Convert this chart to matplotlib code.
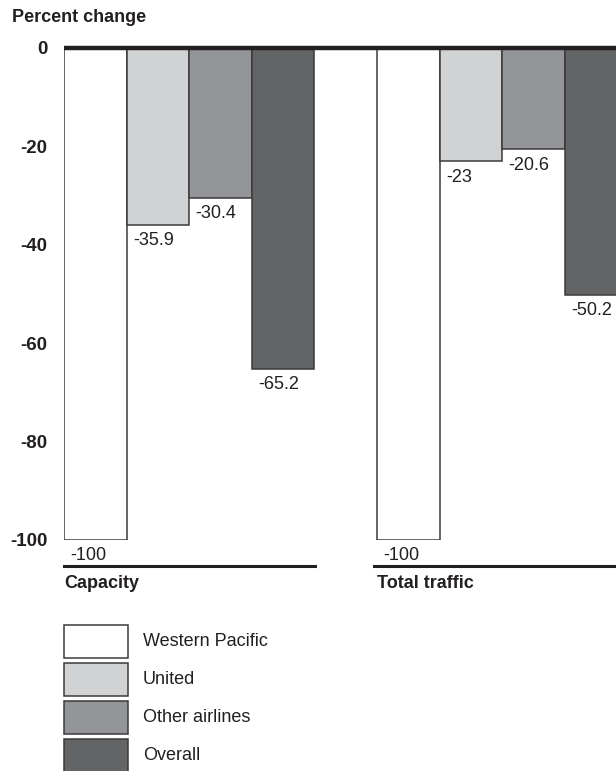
import matplotlib
matplotlib.use("Agg")
import matplotlib.pyplot as plt
from matplotlib.patches import Rectangle
from matplotlib.lines import Line2D

plt.rcParams['font.family'] = ['Liberation Sans', 'DejaVu Sans']

# ---- data ----
groups = ["Capacity", "Total traffic"]
series = ["Western Pacific", "United", "Other airlines", "Overall"]
capacity = [-100, -35.9, -30.4, -65.2]
total_traffic = [-100, -23, -20.6, -50.2]
yticks = [0, -20, -40, -60, -80, -100]
colors = ["#ffffff", "#d1d2d4", "#939598", "#636466"]
edge = "#3a3a3a"
dark = "#231f20"

W, H = 616, 771
fig = plt.figure(figsize=(W / 100, H / 100), dpi=100)

def fx(px):
    return px / W

def fy(py):
    return 1 - py / H

# axes: x from 64 px to 616 px, y 0 at 48 px, -100 at 540 px
bar_px = 62.6
ax_left, ax_right = 64, 616
ax_top, ax_bottom = 48, 540
ax = fig.add_axes([fx(ax_left), fy(ax_bottom), fx(ax_right - ax_left), (ax_bottom - ax_top) / H])
ax.set_xlim(0, (ax_right - ax_left) / bar_px)
ax.set_ylim(-100, 0)
for s in ax.spines.values():
    s.set_visible(False)
ax.set_xticks([])
ax.set_yticks(yticks)
ax.set_yticklabels([str(v) for v in yticks], fontsize=13.5, fontweight='bold', color=dark)
ax.tick_params(axis='y', length=0, pad=12)
ax.patch.set_visible(False)

data = [capacity, total_traffic]
for gi, vals in enumerate(data):
    start = gi * (len(series) + 1)
    for si, v in enumerate(vals):
        left = start + si
        ax.bar(left, v, width=1.0, align='edge', color=colors[si], edgecolor=edge,
               linewidth=1.1, zorder=2, clip_on=True)
        label = f"{v:g}"
        ax.annotate(label, xy=(left, v), xytext=(4.5, -11.5), textcoords='offset points',
                    ha='left', va='center', fontsize=13, color=dark, annotation_clip=False)

ax.add_line(Line2D([0, (ax_right - ax_left) / bar_px], [0, 0], color=dark, linewidth=3.2,
                   zorder=3, clip_on=False, solid_capstyle='butt'))

# group underlines and labels
underlines = [(64, 315), (374, 620)]
label_x = [64, 377]
for gi, g in enumerate(groups):
    x0, x1 = underlines[gi]
    fig.add_artist(Line2D([fx(x0), fx(x1)], [fy(566), fy(566)], color=dark, linewidth=2.2))
    fig.text(fx(label_x[gi]), fy(584), g, fontsize=13, fontweight='bold', color=dark,
             ha='left', va='center')

# title
fig.text(fx(12), fy(17), "Percent change", fontsize=13, fontweight='bold', color=dark,
         ha='left', va='center')

# legend
box_top0, box_step, box_h = 625, 38, 33
for i, name in enumerate(series):
    top = box_top0 + i * box_step
    fig.add_artist(Rectangle((fx(64), fy(top + box_h)), fx(64), box_h / H,
                             facecolor=colors[i], edgecolor=edge, linewidth=1.1))
    fig.text(fx(143), fy(top + box_h / 2), name, fontsize=13, color=dark,
             ha='left', va='center')

fig.savefig("out.png", dpi=100)
